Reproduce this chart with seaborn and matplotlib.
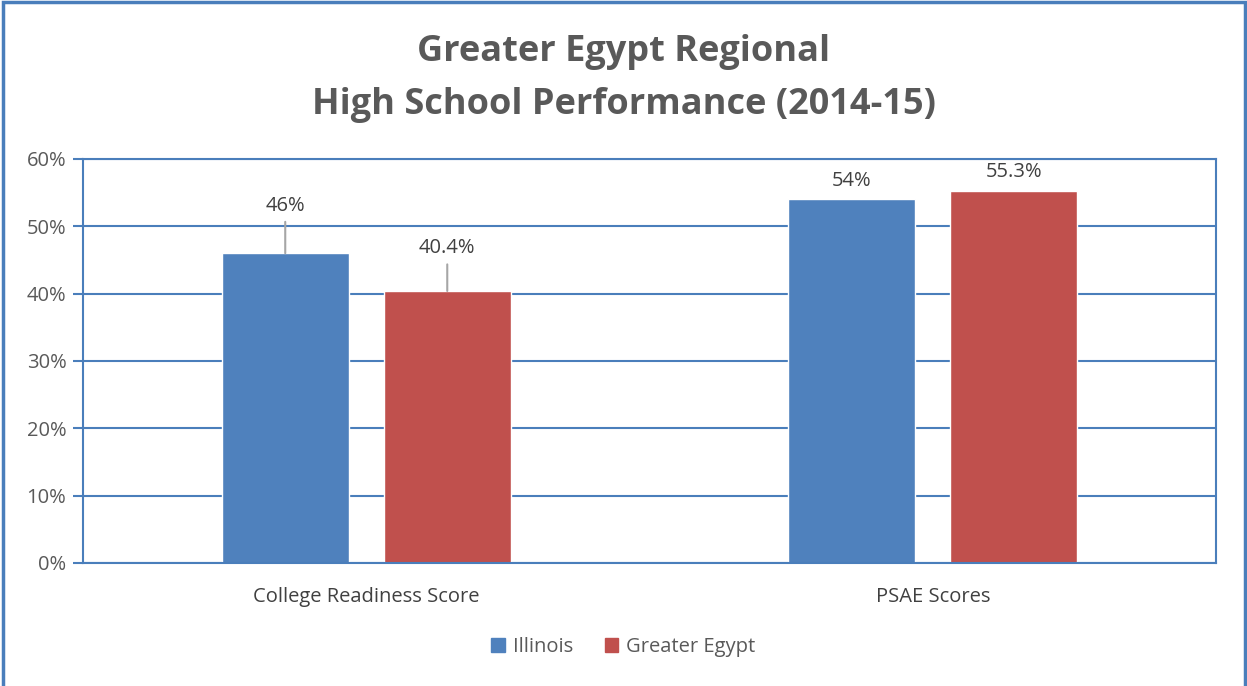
import pandas as pd
import matplotlib.pyplot as plt
import matplotlib.patches as mpatches
import seaborn as sns

categories = ["College Readiness Score", "PSAE Scores"]
series = ["Illinois", "Greater Egypt"]
illinois = [46.0, 54.0]
greater_egypt = [40.4, 55.3]
labels = [["46%", "54%"], ["40.4%", "55.3%"]]
yticks = [0, 10, 20, 30, 40, 50, 60]

df = pd.DataFrame({
    "category": categories * 2,
    "series": [series[0]] * 2 + [series[1]] * 2,
    "value": illinois + greater_egypt,
})

sns.set_style("white")
plt.rcParams["font.family"] = ["Open Sans", "DejaVu Sans"]

blue = "#4F81BD"
red = "#C0504D"
line_blue = "#4A7EBB"
text_grey = "#595959"

fig = plt.figure(figsize=(12.47, 6.86), dpi=100)
ax = fig.add_axes([83 / 1247, 1 - 563 / 686, (1216 - 83) / 1247, (563 - 159) / 686])

sns.barplot(data=df, x="category", y="value", hue="series", order=categories,
            hue_order=series, palette=[blue, red], width=0.572, gap=0.217,
            saturation=1, ax=ax, legend=False)

ax.set_xlim(-0.5, 1.5)
ax.set_ylim(0, 60)
ax.set_yticks(yticks)
ax.set_yticklabels([f"{t}%" for t in yticks], fontsize=14.5, color=text_grey)
ax.set_xticks(range(len(categories)))
ax.set_xticklabels(categories, fontsize=14.5, color="#404040")
ax.set_xlabel("")
ax.set_ylabel("")
ax.tick_params(axis="y", length=7, width=1.5, color=line_blue, pad=5, direction="out", left=True)
ax.tick_params(axis="x", length=0, pad=17)
ax.grid(axis="y", color=line_blue, linewidth=1.5)
ax.set_axisbelow(True)
for side in ["left", "right", "top", "bottom"]:
    ax.spines[side].set_visible(True)
    ax.spines[side].set_color(line_blue)
    ax.spines[side].set_linewidth(1.5)

# data labels; the College Readiness ones sit higher with a leader line
for i, cont in enumerate(ax.containers):
    for j, bar in enumerate(cont):
        x = bar.get_x() + bar.get_width() / 2
        y = bar.get_height()
        if j == 0:
            offset = 27 if i == 0 else 23.5
            ax.annotate(labels[i][j], xy=(x, y), xytext=(0, offset),
                        textcoords="offset points", ha="center", va="bottom",
                        fontsize=14.5, color="#404040",
                        arrowprops=dict(arrowstyle="-", color="#A6A6A6", lw=1.5,
                                        shrinkA=2, shrinkB=0))
        else:
            ax.annotate(labels[i][j], xy=(x, y), xytext=(0, 6),
                        textcoords="offset points", ha="center", va="bottom",
                        fontsize=14.5, color="#404040")

fig.text(0.5, 1 - 52 / 686, "Greater Egypt Regional", ha="center", va="center",
         fontsize=26, fontweight="bold", color=text_grey)
fig.text(0.5, 1 - 105 / 686, "High School Performance (2014-15)", ha="center", va="center",
         fontsize=26, fontweight="bold", color=text_grey)

handles = [mpatches.Patch(color=blue, label=series[0]),
           mpatches.Patch(color=red, label=series[1])]
fig.legend(handles=handles, loc="center", bbox_to_anchor=(0.5, 1 - 647 / 686), ncol=2,
           frameon=False, fontsize=14.5, handlelength=0.65, handleheight=0.65,
           handletextpad=0.4, columnspacing=1.6, labelcolor=text_grey)

fig.patches.append(mpatches.Rectangle((2.5 / 1247, -0.05), 1242 / 1247, 1.05 - 2.5 / 686,
                                      transform=fig.transFigure, fill=False,
                                      edgecolor=line_blue, linewidth=2.5))

fig.savefig("out.png", dpi=100, facecolor="white")
